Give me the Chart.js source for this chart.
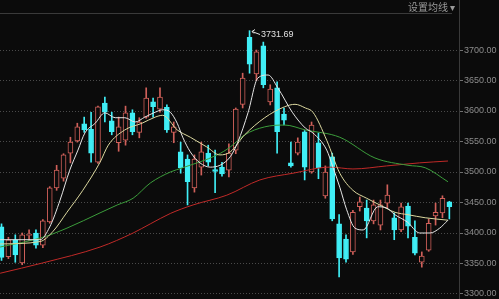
<!DOCTYPE html>
<html lang="zh-CN">
<head>
<meta charset="UTF-8">
<title>K线图</title>
<script src="https://cdn.jsdelivr.net/npm/chart.js"></script>
<style>
  html, body { margin: 0; padding: 0; background: #0b0b0b; overflow: hidden; }
  .wrap { position: relative; width: 499px; height: 299px; }
  #kline { display: block; }
  .ma-set { position: absolute; left: 408px; top: 0; font: 10px "Noto Sans CJK SC", sans-serif; line-height: 13px; color: #9a9a9a; }
</style>
</head>
<body>
<div class="wrap">
  <canvas id="kline" width="499" height="299"></canvas>
  <div class="ma-set">设置均线 ▾</div>
</div>
<script>
// 日K: 开 高 低 收
const opens  = [3410,3361,3389,3351,3396,3400,3380,3418,3474,3490,3531,3551,3579,3570,3516,3613,3584,3548,3552,3597,3565,3590,3615,3603,3606,3565,3533,3521,3474,3508,3531,3504,3508,3503,3536,3611,3721,3661,3707,3615,3638,3595,3515,3531,3566,3500,3548,3461,3525,3415,3390,3369,3443,3441,3420,3413,3449,3425,3405,3444,3393,3352,3372,3428,3433,3451];
const highs  = [3415,3393,3397,3400,3405,3405,3422,3476,3511,3530,3557,3580,3590,3598,3608,3623,3598,3590,3608,3602,3589,3638,3621,3638,3610,3582,3549,3528,3528,3549,3544,3536,3516,3546,3605,3662,3731.69,3700,3713,3643,3648,3605,3549,3556,3568,3582,3564,3510,3531,3430,3397,3437,3459,3454,3454,3454,3479,3433,3449,3449,3420,3369,3423,3449,3461,3452];
const lows   = [3355,3358,3352,3348,3388,3375,3376,3416,3470,3485,3515,3549,3565,3516,3514,3582,3561,3534,3544,3561,3556,3588,3590,3598,3565,3548,3498,3446,3467,3495,3510,3466,3493,3492,3530,3605,3662,3650,3638,3610,3531,3577,3508,3528,3487,3498,3489,3457,3420,3328,3352,3365,3436,3392,3415,3405,3441,3389,3402,3392,3364,3344,3370,3413,3425,3423];
const closes = [3360,3389,3364,3397,3398,3380,3420,3474,3503,3528,3549,3574,3569,3531,3607,3598,3566,3574,3597,3566,3582,3621,3607,3623,3569,3574,3507,3484,3521,3533,3516,3501,3497,3531,3603,3654,3677,3697,3643,3636,3566,3585,3510,3549,3508,3577,3507,3500,3423,3359,3357,3434,3451,3420,3446,3446,3462,3405,3443,3411,3367,3362,3416,3434,3457,3443];

const yTicks = [3300, 3350, 3400, 3450, 3500, 3550, 3600, 3650, 3700];

// 均线 [K线序号, 数值]
const ma5 = [[-0.2,3389],[5.6,3389],[7,3410],[8.5,3454],[9.9,3503],[11.1,3536],[12.1,3564],[13.6,3580],[15,3597],[16.5,3589],[17.9,3589],[19.4,3582],[20.8,3590],[22.3,3598],[23.4,3602],[24.5,3598],[25.5,3580],[26.3,3557],[27.4,3533],[28.8,3515],[30.3,3508],[31.7,3511],[33.2,3525],[34.3,3549],[35.8,3598],[37.2,3654],[38.7,3659],[40.1,3638],[42.2,3598],[44.1,3572],[45.2,3564],[47.2,3536],[48.1,3508],[49.1,3475],[50.1,3438],[51.3,3408],[52.5,3405],[54.6,3443],[55.9,3441],[57.1,3430],[58.9,3418],[60.7,3400],[62.2,3400],[63.6,3408],[64.8,3421]];
const ma10 = [[-0.2,3382],[5.6,3386],[7.5,3403],[9.5,3434],[11.8,3470],[14.3,3516],[15.5,3544],[17.9,3569],[20.4,3580],[22.3,3590],[23.4,3593],[25.5,3569],[27.4,3557],[29.8,3541],[31.7,3528],[33.2,3533],[35.3,3561],[38.2,3589],[41.1,3607],[42.6,3611],[44.1,3605],[45.2,3598],[47.2,3552],[49.1,3498],[51,3470],[53,3457],[54.9,3446],[57.1,3434],[59,3430],[61.5,3425],[64.8,3421]];
const ma20 = [[-0.2,3377],[6,3393],[9.5,3408],[14.3,3433],[16.8,3446],[19.1,3457],[21.6,3482],[24.5,3500],[26.3,3507],[31.3,3528],[33.2,3541],[35.3,3561],[38.2,3574],[41.1,3577],[44.1,3569],[49.1,3557],[54.2,3523],[59,3511],[61.5,3507],[64.8,3484]];
const ma60 = [[-0.2,3334],[6,3351],[14.3,3377],[19.1,3400],[21.6,3415],[24.5,3432],[27.8,3446],[32.7,3462],[37.5,3487],[42.3,3498],[47.7,3508],[51,3505],[55.9,3510],[60.7,3515],[64.8,3518]];

const bg = '#0b0b0b';
const upColor = '#d0605a';
const downColor = '#40eef6';

const isUp = i => closes[i] >= opens[i];
const wicks = opens.map((_, i) => ({ x: i, y: [lows[i], highs[i]] }));
const bodies = opens.map((_, i) => ({ x: i, y: [opens[i], closes[i]] }));
const toXY = arr => arr.map(p => ({ x: p[0], y: p[1] }));

const maLine = (data, color) => ({
    type: 'line',
    data: toXY(data),
    borderColor: color,
    borderWidth: 1,
    pointRadius: 0,
    cubicInterpolationMode: 'monotone',
    order: 0,
});

const chartDecor = {
    id: 'chartDecor',
    afterDraw(chart) {
        const c = chart.ctx;
        c.save();
        c.strokeStyle = '#3a3a3a';
        c.lineWidth = 1;
        c.beginPath();
        c.moveTo(0, 13.5);
        c.lineTo(452, 13.5);
        c.stroke();

        // 最高价标注
        const top = highs.indexOf(Math.max(...highs));
        const px = Math.round(chart.scales.x.getPixelForValue(top));
        const py = Math.round(chart.scales.y.getPixelForValue(highs[top]));
        c.strokeStyle = '#e0e0e0';
        c.beginPath();
        c.moveTo(px + 2, py + 0.5);
        c.lineTo(px + 10, py + 3.5);
        c.moveTo(px + 2, py + 0.5);
        c.lineTo(px + 5, py - 1.5);
        c.moveTo(px + 2, py + 0.5);
        c.lineTo(px + 4, py + 2.5);
        c.stroke();
        c.fillStyle = '#e0e0e0';
        c.font = '9px "Liberation Sans"';
        c.textBaseline = 'middle';
        c.fillText(highs[top].toFixed(2), px + 11, py + 4);
        c.restore();
    }
};

new Chart(document.getElementById('kline').getContext('2d'), {
    type: 'bar',
    data: {
        datasets: [
            maLine(ma5, '#e6e6e6'),
            maLine(ma10, '#ddd9a0'),
            maLine(ma20, '#3c9e3c'),
            maLine(ma60, '#c02a28'),
            {
                data: bodies,
                grouped: false,
                barThickness: 5,
                borderWidth: 1,
                borderSkipped: false,
                backgroundColor: ctx => isUp(ctx.dataIndex) ? bg : downColor,
                borderColor: ctx => isUp(ctx.dataIndex) ? upColor : downColor,
                order: 2,
            },
            {
                data: wicks,
                grouped: false,
                barThickness: 1,
                borderWidth: 0,
                backgroundColor: ctx => isUp(ctx.dataIndex) ? upColor : downColor,
                order: 3,
            },
        ],
    },
    options: {
        responsive: false,
        animation: false,
        events: [],
        layout: { padding: 0 },
        plugins: { legend: { display: false }, tooltip: { enabled: false } },
        scales: {
            x: { type: 'linear', min: -0.22, max: 66.4, offset: false, display: false },
            y: {
                position: 'right',
                min: 3291.8,
                max: 3782,
                afterBuildTicks: axis => { axis.ticks = yTicks.map(v => ({ value: v })); },
                afterFit: axis => { axis.width = 40; axis.paddingTop = 0; axis.paddingBottom = 0; },
                grid: { color: '#4a4a4a', tickColor: '#707070', tickLength: 4, tickBorderDash: [] },
                border: { display: true, color: '#3a3a3a', dash: [1, 2] },
                ticks: {
                    color: '#8c8c8c',
                    padding: 1,
                    font: { family: 'Liberation Sans', size: 9 },
                    callback: v => v.toFixed(2),
                },
            },
        },
    },
    plugins: [chartDecor],
});
</script>
</body>
</html>
